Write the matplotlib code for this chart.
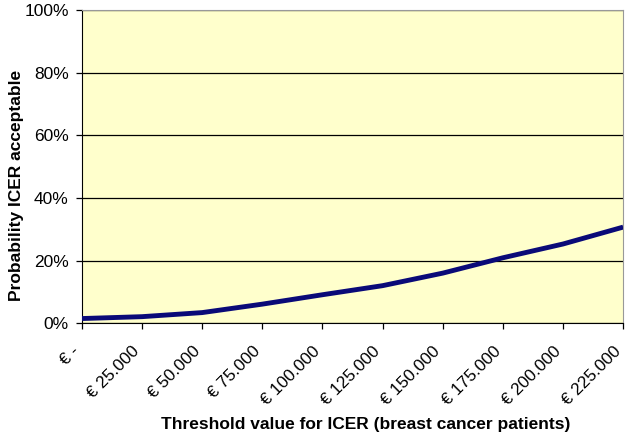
import numpy as np
import matplotlib.pyplot as plt
import matplotlib.transforms as mtransforms
from matplotlib.ticker import PercentFormatter

plt.rcParams['font.family'] = ['Liberation Sans', 'DejaVu Sans']

thresholds = ['€ -', '€ 25.000', '€ 50.000', '€ 75.000', '€ 100.000', '€ 125.000',
              '€ 150.000', '€ 175.000', '€ 200.000', '€ 225.000']
prob_acceptable = [1.5, 2.1, 3.4, 6.1, 9.1, 12.0, 16.0, 20.9, 25.3, 30.7]

fig = plt.figure(figsize=(6.25, 4.38), dpi=100)
ax = fig.add_axes([0.131, 0.262, 0.866, 0.715])
ax.set_facecolor('#ffffcc')

x = np.arange(len(thresholds))
ax.plot(x, prob_acceptable, color='#0a0a78', lw=3.5, solid_capstyle='butt', zorder=3)

ax.set_xlim(0, len(thresholds) - 1)
ax.set_ylim(0, 100)
ax.set_yticks(np.arange(0, 101, 20))
ax.yaxis.set_major_formatter(PercentFormatter(decimals=0))
ax.grid(axis='y', color='black', lw=0.9)
ax.set_axisbelow(True)

ax.set_xticks(x)
ax.tick_params(axis='x', length=4.5, width=0.9, direction='out', labelbottom=False)
ax.tick_params(axis='y', labelsize=12.5, length=4.5, width=0.9, direction='out', pad=5)

# rotated category labels, pushed a bit left/down of each tick like the original
offset = mtransforms.ScaledTranslation(-10 / 100, -20 / 100, fig.dpi_scale_trans)
for xi, lab in zip(x, thresholds):
    ax.text(xi, 0, lab, transform=ax.get_xaxis_transform() + offset,
            rotation=45, ha='right', va='top', rotation_mode='anchor', fontsize=12.3)

for side in ['top', 'right']:
    ax.spines[side].set_color('#999999')
for side in ['left', 'bottom']:
    ax.spines[side].set_color('black')

ax.set_ylabel('Probability ICER acceptable', fontsize=12.5, fontweight='bold')
ax.yaxis.set_label_coords(-0.107, 0.44)
ax.set_xlabel('Threshold value for ICER (breast cancer patients)', fontsize=12.5,
              fontweight='bold')
ax.xaxis.set_label_coords(0.525, -0.30)

fig.savefig('out.png', dpi=100)
